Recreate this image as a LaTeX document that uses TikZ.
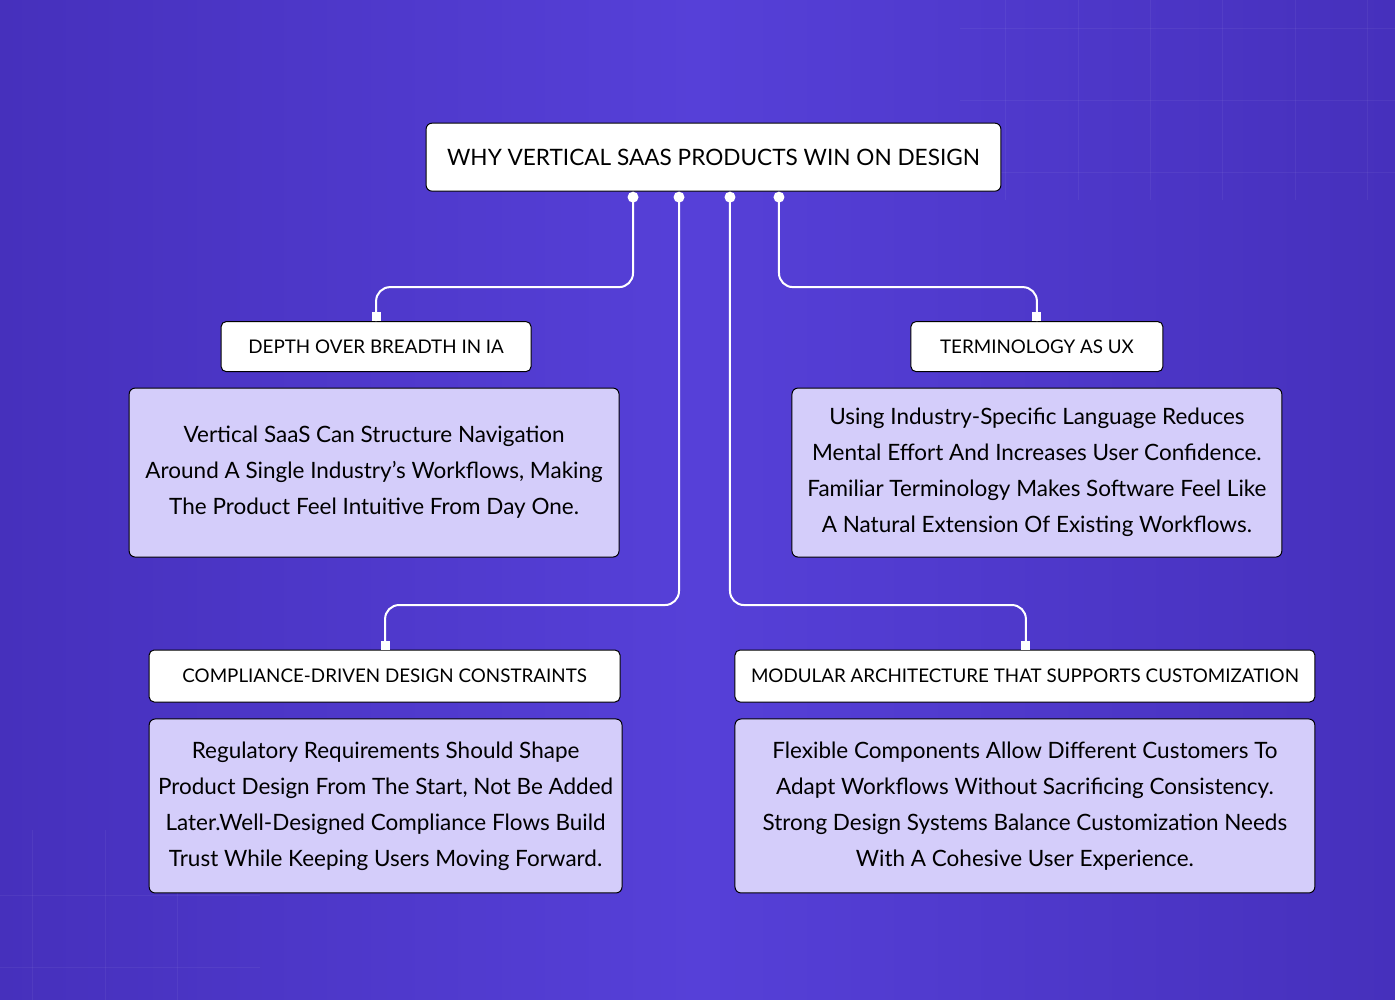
\documentclass[tikz,border=0pt]{standalone}
\usepackage{fontspec}
\setmainfont{Lato}
\usetikzlibrary{positioning}
\definecolor{bgviolet}{RGB}{80,58,206}
\definecolor{bglight}{RGB}{86,64,216}
\definecolor{bgdark}{RGB}{70,48,188}
\definecolor{lavender}{RGB}{212,205,250}

\begin{document}
\begin{tikzpicture}[x=1pt,y=-1pt,
    title/.style={draw=black, fill=white, rounded corners=6pt, line width=1pt,
      minimum width=575pt, minimum height=68pt, inner sep=0pt,
      font=\fontsize{22.6}{26}\selectfont},
    head/.style={draw=black, fill=white, rounded corners=5pt, line width=1pt,
      minimum height=50pt, inner sep=0pt, font=\fontsize{18.8}{23}\selectfont},
    card/.style={draw=black, fill=lavender, rounded corners=6pt, line width=1pt,
      inner sep=0pt, align=center, font=\fontsize{22.5}{36}\selectfont},
    link/.style={draw=white, line width=2pt, rounded corners=14pt},
    dot/.style={fill=white, circle, inner sep=0pt, minimum size=11pt}]

    % Le fond
    \shade[left color=bgdark, right color=bgdark, middle color=bglight] (0,0) rectangle (1395,1000);
    \foreach \x in {1005,1078,1150,1222,1295,1367} \draw[white, opacity=0.05] (\x,0) -- (\x,200);
    \foreach \y in {28,100,172} \draw[white, opacity=0.05] (960,\y) -- (1395,\y);
    \foreach \x in {32,105,177} \draw[white, opacity=0.05] (\x,830) -- (\x,1000);
    \foreach \y in {895,967} \draw[white, opacity=0.05] (0,\y) -- (260,\y);

    % Le titre
    \node[title] (why) at (713.5,157) {WHY VERTICAL SAAS PRODUCTS WIN ON DESIGN};

    % Les points de départ
    \node[dot] (d1) at (633,197) {};
    \node[dot] (d2) at (679,197) {};
    \node[dot] (d3) at (730,197) {};
    \node[dot] (d4) at (779,197) {};

    % Les rubriques du haut
    \node[head, minimum width=310pt] (depth) at (376,346.5) {DEPTH OVER BREADTH IN IA};
    \node[card, minimum width=490pt, minimum height=169pt] (depthtxt) at (374,472.5)
      {Vertical SaaS Can Structure Navigation\\
       Around A Single Industry’s Workflows, Making\\
       The Product Feel Intuitive From Day One.};
    \node[head, minimum width=252pt] (term) at (1037,346.5) {TERMINOLOGY AS UX};
    \node[card, minimum width=490pt, minimum height=169pt] (termtxt) at (1037,472.5)
      {Using Industry-Specific Language Reduces\\
       Mental Effort And Increases User Confidence.\\
       Familiar Terminology Makes Software Feel Like\\
       A Natural Extension Of Existing Workflows.};

    % Les rubriques du bas
    \node[head, minimum width=471pt, minimum height=52pt] (comp) at (384.5,676) {COMPLIANCE-DRIVEN DESIGN CONSTRAINTS};
    \node[card, minimum width=473pt, minimum height=174pt] (comptxt) at (385.5,806)
      {Regulatory Requirements Should Shape\\
       Product Design From The Start, Not Be Added\\
       Later.Well-Designed Compliance Flows Build\\
       Trust While Keeping Users Moving Forward.};
    \node[head, minimum width=580pt, minimum height=52pt] (modu) at (1025,676) {MODULAR ARCHITECTURE THAT SUPPORTS CUSTOMIZATION};
    \node[card, minimum width=580pt, minimum height=174pt] (modutxt) at (1025,806)
      {Flexible Components Allow Different Customers To\\
       Adapt Workflows Without Sacrificing Consistency.\\
       Strong Design Systems Balance Customization Needs\\
       With A Cohesive User Experience.};

    % Les liaisons
    \coordinate (k1) at (376,287);
    \coordinate (k4) at (1037,287);
    \coordinate (k2) at (385,605);
    \coordinate (k3) at (1026,605);
    \draw[link] (d1.center) -- (d1 |- k1) -- (k1) -- (k1 |- depth.north);
    \draw[link] (d4.center) -- (d4 |- k4) -- (k4) -- (k4 |- term.north);
    \draw[link] (d2.center) -- (d2 |- k2) -- (k2) -- (k2 |- comp.north);
    \draw[link] (d3.center) -- (d3 |- k3) -- (k3) -- (k3 |- modu.north);

    % Les petits carrés
    \foreach \k/\n in {k1/depth, k4/term, k2/comp, k3/modu}
      \fill[white] (\k |- \n.north) ++(-4.5,0) rectangle ++(9,-9);
\end{tikzpicture}
\end{document}
